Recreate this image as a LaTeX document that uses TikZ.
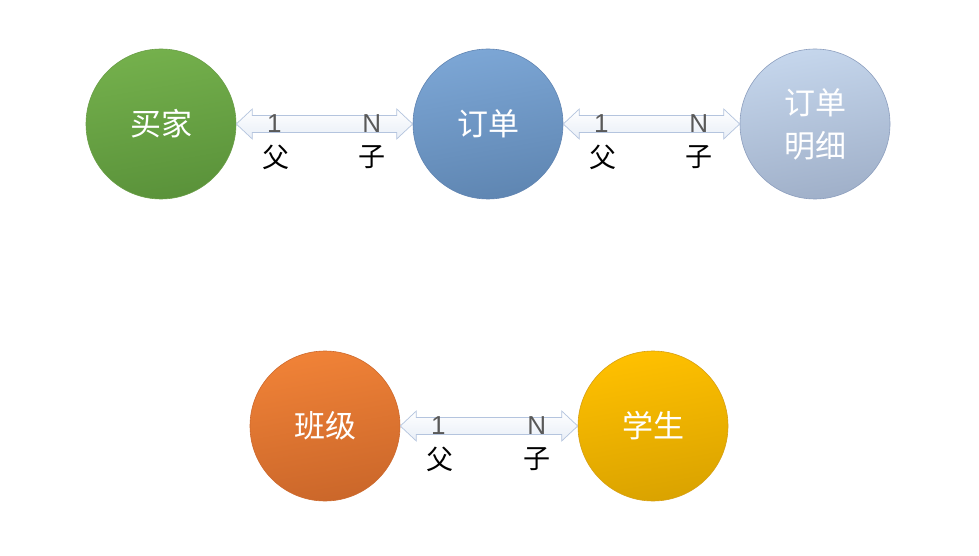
\documentclass[tikz,border=0pt]{standalone}
\usepackage{fontspec}
\setmainfont{Liberation Sans}
\newfontfamily\cjk{Noto Sans CJK SC}
\usetikzlibrary{calc}
\definecolor{arrline}{HTML}{B4C4DE}
\definecolor{arrfill}{HTML}{E8EEF7}
\definecolor{numgray}{HTML}{595959}
\definecolor{gline}{RGB}{106,158,71}\definecolor{gtop}{RGB}{116,176,76}\definecolor{gbot}{RGB}{90,146,58}
\definecolor{bline}{RGB}{96,132,178}\definecolor{btop}{RGB}{124,166,213}\definecolor{bbot}{RGB}{95,134,178}
\definecolor{lline}{RGB}{140,158,190}\definecolor{ltop}{RGB}{197,214,236}\definecolor{lbot}{RGB}{160,176,201}
\definecolor{oline}{RGB}{205,105,45}\definecolor{otop}{RGB}{240,130,55}\definecolor{obot}{RGB}{203,103,42}
\definecolor{yline}{RGB}{215,160,20}\definecolor{ytop}{RGB}{255,192,0}\definecolor{ybot}{RGB}{218,163,0}
\tikzset{
  ball/.style={circle, minimum size=150pt, inner sep=0pt, line width=0.6pt, text=white,
    font=\cjk\fontsize{31}{43}\selectfont, align=center},
  ballc/.style={ball, draw=#1line, top color=#1top, bottom color=#1bot, shading angle=10},
  dblarrow/.style={draw=arrline, line width=0.7pt, top color=white, bottom color=arrfill, line join=miter},
  num/.style={text=numgray, font=\fontsize{26}{26}\selectfont, inner sep=0pt},
  rel/.style={text=black, font=\cjk\fontsize{27}{27}\selectfont, inner sep=0pt}
}
\newcommand\dbarrow[2]{%
  \path[dblarrow] let \p1=(#1.east), \p2=(#2.west) in
    (\x1,\y1) -- (\x1+16pt,\y1+15pt) -- (\x1+16pt,\y1+8.5pt) -- (\x2-16pt,\y2+8.5pt) -- (\x2-16pt,\y2+15pt)
    -- (\x2,\y2) -- (\x2-16pt,\y2-15pt) -- (\x2-16pt,\y2-8.5pt) -- (\x1+16pt,\y1-8.5pt) -- (\x1+16pt,\y1-15pt) -- cycle;
  \node[num] at ($(#1.east)+(38pt,0pt)$) {1};
  \node[num] at ($(#2.west)+(-41pt,0pt)$) {N};
  \node[rel] at ($(#1.east)+(40pt,-33pt)$) {父};
  \node[rel] at ($(#2.west)+(-41pt,-33pt)$) {子};
}
\begin{document}
\begin{tikzpicture}[x=1pt,y=-1pt]
\useasboundingbox[fill=white] (0,0) rectangle (979,556);
\node[ballc=g] (buyer) at (161,124) {买家};
\node[ballc=b] (order) at (488,124) {订单};
\node[ballc=l] (detail) at (815,124) {订单\\明细};
\node[ballc=o] (class) at (325,426) {班级};
\node[ballc=y] (student) at (653,426) {学生};
\dbarrow{buyer}{order}
\dbarrow{order}{detail}
\dbarrow{class}{student}
\end{tikzpicture}
\end{document}
